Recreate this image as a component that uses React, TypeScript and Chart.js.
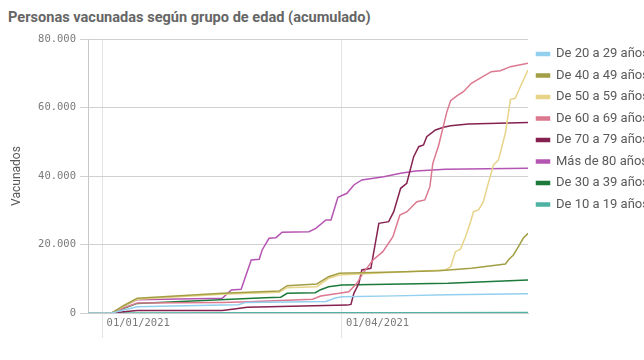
import React, { useEffect, useRef } from "react";
import { Chart, registerables } from "chart.js";

Chart.register(...registerables);

// x values are days counted from 01/01/2021
const xTickDays = [0, 90];
const xTickLabels = ["01/01/2021", "01/04/2021"];
const yTickValues = [0, 20000, 40000, 60000, 80000];

const titleText = "Personas vacunadas según grupo de edad (acumulado)";
const yAxisTitle = "Vacunados";

const seriesNames = [
  "De 20 a 29 años",
  "De 40 a 49 años",
  "De 50 a 59 años",
  "De 60 a 69 años",
  "De 70 a 79 años",
  "Más de 80 años",
  "De 30 a 39 años",
  "De 10 a 19 años",
];

const seriesColors = [
  "#93cfee",
  "#a39f45",
  "#e7d488",
  "#dc7890",
  "#85224f",
  "#b555b3",
  "#1c7a3a",
  "#4fb3a3",
];

const days20_29 = [-5.5, 3.5, 8, 13, 45, 51, 54, 84, 87.5, 90, 110, 130, 160];
const vals20_29 = [0, 0, 900, 1800, 2300, 2400, 3100, 3350, 4400, 4750, 5000, 5300, 5600];

const days40_49 = [-5.5, 3.5, 8, 13, 45, 66.4, 69.4, 80.6, 85, 89, 110, 126.4, 138.7, 151.5, 152.6, 154.5, 156.4, 158.2, 160];
const vals40_49 = [0, 0, 2200, 4290, 5750, 6420, 7970, 8470, 10600, 11590, 12000, 12350, 13050, 14300, 15480, 16940, 19360, 21810, 23270];

const days50_59 = [-5.5, 3.5, 8, 13, 45, 66.4, 69.4, 80.6, 85, 89, 110, 129, 130.9, 132.7, 134.6, 136.5, 138.4, 139.5, 141.4, 143.2, 145.1, 147, 148.9, 151.5, 153.4, 155.2, 157.1, 160];
const vals50_59 = [0, 0, 2000, 4000, 5450, 6030, 7390, 7690, 10130, 11100, 11900, 12560, 13500, 17900, 18600, 22280, 26660, 29580, 30080, 32500, 38000, 43220, 44680, 52560, 62400, 62690, 66080, 70960];

const days60_69 = [-5.5, 3.5, 8, 13, 45, 55, 79, 82, 89, 92.6, 95.6, 97.9, 101.7, 105.4, 109.2, 111.8, 114.5, 118.2, 121.2, 123.1, 124.2, 126.4, 129.4, 130.9, 133.1, 135.7, 138.7, 142.5, 146.2, 149.6, 153.4, 160];
const vals60_69 = [0, 0, 1500, 2900, 3100, 3300, 4000, 4960, 5750, 6220, 8670, 11590, 15480, 17900, 22280, 28620, 29580, 32500, 33000, 36880, 43700, 49000, 58500, 62000, 63300, 64600, 67070, 68800, 70460, 70750, 71920, 72910];

const days70_79 = [-5.5, 3.5, 8, 13, 45, 49.5, 54.4, 92, 93.4, 94.5, 96.4, 97.5, 100.9, 103.9, 107.6, 109.5, 112.1, 114.4, 117, 118.9, 120.7, 121.9, 125.2, 128.2, 130.9, 137.6, 160];
const vals70_79 = [0, 0, 400, 700, 750, 1200, 1660, 2300, 2500, 5750, 8670, 12560, 13050, 26190, 26660, 29580, 36410, 37870, 45640, 48560, 49060, 51480, 53440, 54220, 54690, 55190, 55630];

const days80 = [-5.5, 3.5, 8, 13, 45, 48.4, 52.1, 55.9, 58.9, 60, 62.6, 65.2, 67.5, 77.6, 80.2, 84, 85.9, 88.5, 91.9, 94.5, 97.5, 105.7, 112.1, 117.7, 129, 160];
const vals80 = [0, 0, 2000, 3900, 4290, 6720, 6920, 15480, 15680, 18400, 21810, 21990, 23560, 23740, 24730, 27160, 27160, 33780, 34950, 37380, 38840, 39800, 40790, 41460, 41960, 42250];

const days30_39 = [-5.5, 3.5, 8, 13, 42, 61, 67, 69.4, 80, 82, 85, 90, 130, 160];
const vals30_39 = [0, 0, 1400, 2800, 3800, 4470, 4600, 5750, 5930, 6800, 7680, 8180, 8670, 9640];

const days10_19 = [-5.5, 3.5, 60, 120, 160];
const vals10_19 = [0, 0, 40, 90, 140];

const seriesDays = [days20_29, days40_49, days50_59, days60_69, days70_79, days80, days30_39, days10_19];
const seriesVals = [vals20_29, vals40_49, vals50_59, vals60_69, vals70_79, vals80, vals30_39, vals10_19];

const fmtThousands = (v: number) =>
  String(Math.round(v)).replace(/\B(?=(\d{3})+(?!\d))/g, ".");

export default function App() {
  const canvasRef = useRef<HTMLCanvasElement | null>(null);

  useEffect(() => {
    const canvas = canvasRef.current;
    if (!canvas) return;
    const datasets = seriesNames.map((name, i) => ({
      label: name,
      data: seriesDays[i].map((d, j) => ({ x: d, y: seriesVals[i][j] })),
      borderColor: seriesColors[i],
      backgroundColor: seriesColors[i],
      borderWidth: 1.5,
      pointRadius: 0,
      tension: 0,
      fill: false,
    }));

    const chart = new Chart(canvas, {
      type: "line",
      data: { datasets },
      options: {
        responsive: false,
        animation: false,
        layout: { padding: { top: 39, left: 0, right: 0, bottom: 0 } },
        plugins: {
          legend: {
            position: "right",
            align: "start",
            fullSize: false,
            maxWidth: 116,
            labels: {
              boxWidth: 13,
              boxHeight: 3,
              padding: 8.5,
              color: "#595959",
              font: { family: "Roboto", size: 13 },
            },
          },
          tooltip: { enabled: false },
          title: { display: false },
        },
        scales: {
          x: {
            type: "linear",
            min: -5.5,
            max: 160,
            afterBuildTicks: (axis: any) => {
              axis.ticks = xTickDays.map((v) => ({ value: v }));
            },
            afterFit: (axis: any) => {
              axis.height = 47;
            },
            ticks: {
              callback: (v: any) => {
                const i = xTickDays.indexOf(Number(v));
                return i >= 0 ? xTickLabels[i] : "";
              },
              align: "start",
              labelOffset: 4,
              padding: -21,
              maxRotation: 0,
              autoSkip: false,
              color: "#7a7a7a",
              font: { family: "DejaVu Sans Mono", size: 10.5 },
            },
            grid: { color: "#e3e3e3", tickLength: 25, drawTicks: true },
            border: { color: "#cccccc" },
          },
          y: {
            type: "linear",
            min: 0,
            max: 80000,
            afterBuildTicks: (axis: any) => {
              axis.ticks = yTickValues.map((v) => ({ value: v }));
            },
            afterFit: (axis: any) => {
              axis.width = 88;
            },
            ticks: {
              callback: (v: any) => fmtThousands(Number(v)),
              padding: 4,
              color: "#7a7a7a",
              font: { family: "DejaVu Sans Mono", size: 10.5 },
            },
            grid: { color: "#d0d0d0", tickLength: 8 },
            border: { color: "#c8c8c8" },
            title: {
              display: true,
              text: yAxisTitle,
              color: "#595959",
              font: { family: "Roboto", size: 12 },
              padding: { top: 10, bottom: 0 },
            },
          },
        },
      },
    } as any);
    return () => chart.destroy();
  }, []);

  return (
    <div
      style={{
        position: "fixed",
        left: 0,
        top: 0,
        width: 644,
        height: 360,
        overflow: "hidden",
        background: "#ffffff",
      }}
    >
      <div
        style={{
          position: "absolute",
          left: 8,
          top: 7,
          fontFamily: "Roboto",
          fontWeight: 700,
          fontSize: 15.5,
          lineHeight: "20px",
          color: "#666666",
          whiteSpace: "nowrap",
          transform: "scaleX(0.94)",
          transformOrigin: "left center",
        }}
      >
        {titleText}
      </div>
      <canvas
        ref={canvasRef}
        width={644}
        height={360}
        style={{ position: "absolute", left: 0, top: 0, width: 644, height: 360 }}
      />
    </div>
  );
}
